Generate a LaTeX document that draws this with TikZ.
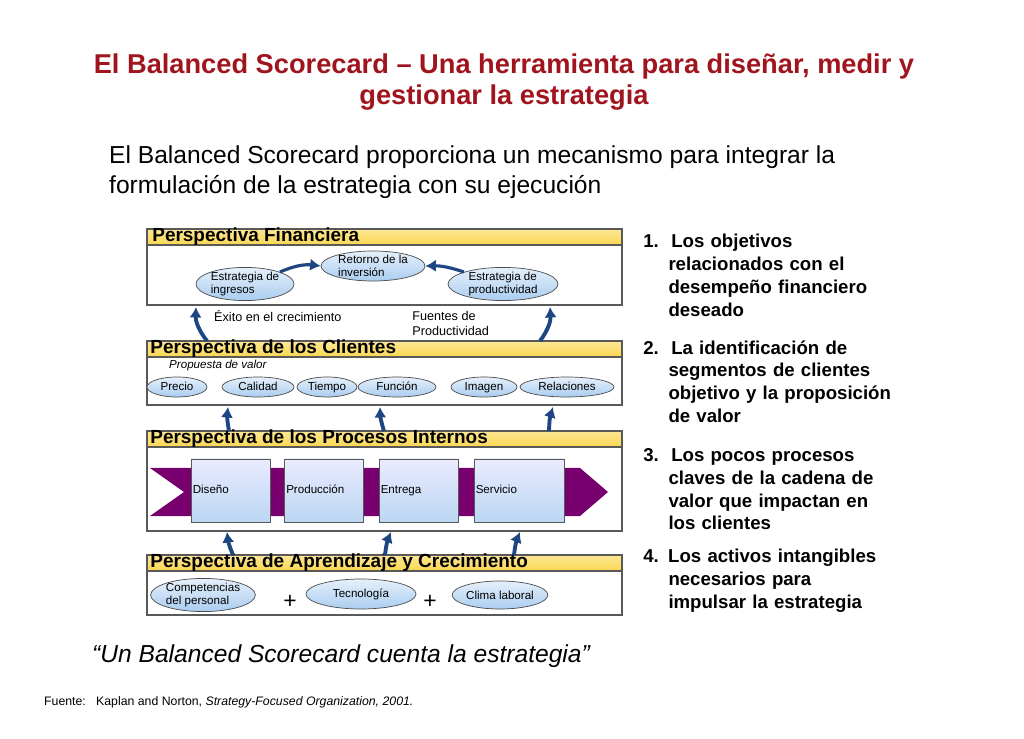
\documentclass[tikz,border=0pt]{standalone}
\usepackage{fontspec}
\setmainfont{Liberation Sans}
\usetikzlibrary{shapes.geometric,arrows.meta}
\definecolor{titlered}{RGB}{160,20,30}
\definecolor{hdr}{RGB}{250,215,80}
\definecolor{ell}{RGB}{170,205,240}
\definecolor{arrowblue}{RGB}{30,70,130}
\definecolor{band}{RGB}{120,0,110}
\begin{document}
\begin{tikzpicture}[x=0.02cm, y=-0.02cm,
  panel/.style = {draw=gray!70!black, line width=1pt, fill=white},
  header/.style = {draw=gray!70!black, line width=0.6pt, top color=hdr!60, bottom color=hdr},
  htext/.style = {anchor=west, inner sep=0pt, font=\fontsize{10.8}{12}\selectfont\bfseries},
  oval/.style = {draw=gray!60!black, ellipse, inner sep=0pt, top color=ell!30, bottom color=ell, font=\fontsize{6.6}{7.2}\selectfont, align=left},
  procbox/.style = {draw=gray!70!black, inner sep=0pt, top color=blue!8, bottom color=ell!80, minimum width=#1, minimum height=63*0.02cm, font=\fontsize{6.6}{7.2}\selectfont, text width=#1-2pt, align=left, text depth=1pt},
  link/.style = {draw=arrowblue, line width=2.2pt, -{Latex[length=6pt,width=7pt]}},
  item/.style = {anchor=north west, inner sep=0pt, font=\fontsize{10.6}{13}\selectfont\bfseries, align=left, text width=7cm}]
\useasboundingbox (0,0) rectangle (1024,739);
% titles
\node[titlered, font=\fontsize{15.5}{17.5}\selectfont\bfseries, align=center] (title) at (504,82) {El Balanced Scorecard -- Una herramienta para diseñar, medir y\\gestionar la estrategia};
\node[anchor=west, font=\fontsize{14}{17}\selectfont, align=left] (intro) at (103,172) {El Balanced Scorecard proporciona un mecanismo para integrar la\\formulación de la estrategia con su ejecución};
% panels
\draw[panel] (147,229) rectangle (622,305);
\draw[header] (147,229) rectangle (622,245);
\node[htext] (h1) at (152,237) {Perspectiva Financiera};
\draw[panel] (147,341) rectangle (622,405);
\draw[header] (147,341) rectangle (622,357);
\node[htext] (h2) at (150,349) {Perspectiva de los Clientes};
\draw[panel] (147,431) rectangle (622,531);
\draw[header] (147,431) rectangle (622,447);
\node[htext] (h3) at (150,439) {Perspectiva de los Procesos Internos};
\draw[panel] (147,555) rectangle (622,615);
\draw[header] (147,555) rectangle (622,571);
\node[htext] (h4) at (150,563) {Perspectiva de Aprendizaje y Crecimiento};
% financiera
\node[oval, minimum width=98*0.02cm, minimum height=30*0.02cm] (ingresos) at (245,284) {Estrategia de\\ingresos};
\node[oval, minimum width=104*0.02cm, minimum height=30*0.02cm] (retorno) at (373,266) {Retorno de la\\inversión};
\node[oval, minimum width=110*0.02cm, minimum height=30*0.02cm] (product) at (503,284) {Estrategia de\\productividad};
\draw[link, line width=1.8pt] (ingresos.north east) to[bend left=15] (retorno.west);
\draw[link, line width=1.8pt] (product.north west) to[bend right=10] (retorno.east);
\node[anchor=west, font=\fontsize{7.2}{8.5}\selectfont] (exito) at (208,316) {Éxito en el crecimiento};
\node[anchor=north west, font=\fontsize{7.2}{8.5}\selectfont, align=left, inner sep=0pt] (fuentes) at (412,311) {Fuentes de\\Productividad};
% clientes
\node[anchor=west, font=\fontsize{6.6}{7.5}\selectfont\itshape] (propuesta) at (163,366) {Propuesta de valor};
\foreach \name/\x/\w/\txt in {precio/177/60/Precio, calidad/258/72/Calidad, tiempo/327/60/Tiempo, funcion/397/78/Función, imagen/484/66/Imagen, relac/567/94/Relaciones}
  \node[oval, minimum width=\w*0.02cm, minimum height=20*0.02cm, text height=5pt, text depth=1.5pt] (\name) at (\x,387) {\txt};
% procesos
\fill[band] (150,468) -- (580,468) -- (608,492) -- (580,516) -- (150,516) -- (184,492) -- cycle;
\node[procbox=79*0.02cm] (diseno) at (230.5,490.5) {Diseño};
\node[procbox=79*0.02cm] (produccion) at (324,490.5) {Producción};
\node[procbox=79*0.02cm] (entrega) at (418.5,490.5) {Entrega};
\node[procbox=90*0.02cm] (servicio) at (519,490.5) {Servicio};
% aprendizaje
\node[oval, minimum width=84*0.02cm, minimum height=30*0.02cm] (compet) at (203,595) {Competencias\\del personal};
\node[oval, minimum width=110*0.02cm, minimum height=30*0.02cm] (tecno) at (361,594) {Tecnología};
\node[oval, minimum width=92*0.02cm, minimum height=28*0.02cm] (clima) at (500,595) {Clima laboral};
\node[font=\fontsize{13}{14}\selectfont] (plus1) at (290,602) {+};
\node[font=\fontsize{13}{14}\selectfont] (plus2) at (430,602) {+};
% links between perspectives
\coordinate (c1) at (207,341); \coordinate (f1) at (196,307);
\coordinate (c2) at (540,341); \coordinate (f2) at (550,307);
\coordinate (p1) at (229,431); \coordinate (k1) at (228,407);
\coordinate (p2) at (384,431); \coordinate (k2) at (380,407);
\coordinate (p3) at (549,431); \coordinate (k3) at (553,407);
\coordinate (a1) at (233,555); \coordinate (q1) at (227,532);
\coordinate (a2) at (385,555); \coordinate (q2) at (391,532);
\coordinate (a3) at (514,555); \coordinate (q3) at (520,532);
\draw[link] (c1) to[bend left=20] (f1);
\draw[link] (c2) to[bend right=20] (f2);
\foreach \s/\t in {p1/k1, p2/k2, p3/k3, a1/q1, a2/q2, a3/q3}
  \draw[link] (\s) to[bend left=8] (\t);
% list
\node[item] (l1) at (643,234) {1.\ \ Los objetivos\\\hspace*{1.35em}relacionados con el\\\hspace*{1.35em}desempeño financiero\\\hspace*{1.35em}deseado};
\node[item] (l2) at (643,340) {2.\ \ La identificación de\\\hspace*{1.35em}segmentos de clientes\\\hspace*{1.35em}objetivo y la proposición\\\hspace*{1.35em}de valor};
\node[item] (l3) at (643,448) {3.\ \ Los pocos procesos\\\hspace*{1.35em}claves de la cadena de\\\hspace*{1.35em}valor que impactan en\\\hspace*{1.35em}los clientes};
\node[item] (l4) at (643,549) {4. Los activos intangibles\\\hspace*{1.35em}necesarios para\\\hspace*{1.35em}impulsar la estrategia};
% footer
\node[anchor=west, font=\fontsize{14}{16}\selectfont\itshape] (quote) at (86,656) {``Un Balanced Scorecard cuenta la estrategia''};
\node[anchor=west, font=\fontsize{7}{8}\selectfont] (fuente) at (38,702) {Fuente:\ \ \ Kaplan and Norton, \textit{Strategy-Focused Organization, 2001.}};
\end{tikzpicture}
\end{document}
